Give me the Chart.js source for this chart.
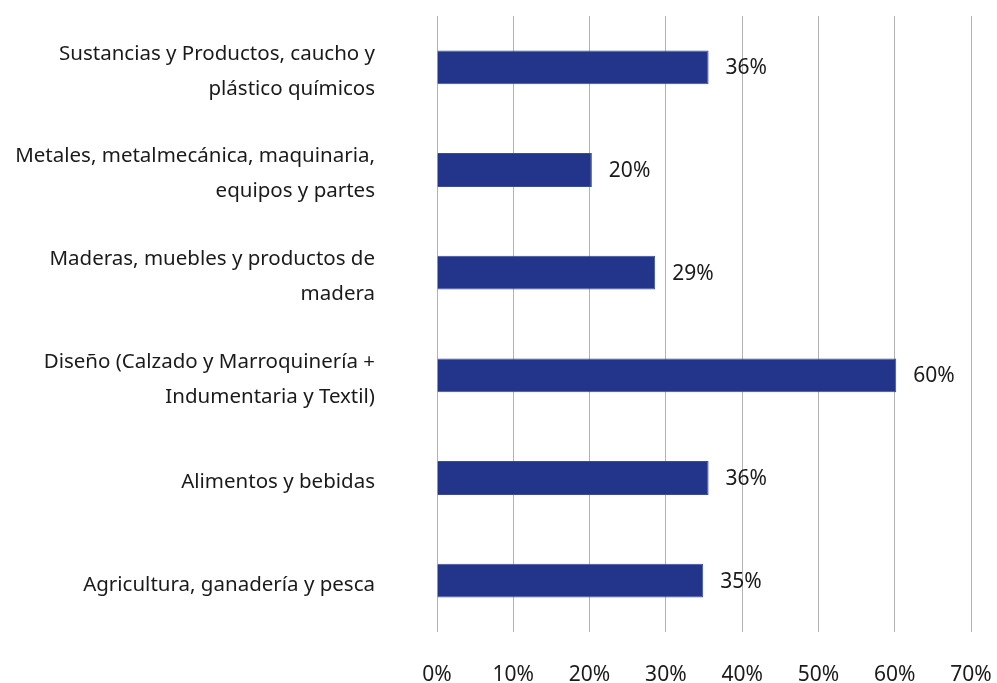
<!DOCTYPE html>
<html>
<head>
<meta charset="utf-8">
<script src="https://cdn.jsdelivr.net/npm/chart.js@4/dist/chart.umd.min.js"></script>
<style>
html,body{margin:0;padding:0;background:#fff;}
#wrap{width:997px;height:683px;position:relative;}
</style>
</head>
<body>
<div id="wrap"><canvas id="c" width="997" height="683"></canvas></div>
<script>
const categories = [
  ["Sustancias y Productos, caucho y", "plástico químicos"],
  ["Metales, metalmecánica, maquinaria,", "equipos y partes"],
  ["Maderas, muebles y productos de", "madera"],
  ["Diseño (Calzado y Marroquinería +", "Indumentaria y Textil)"],
  ["Alimentos y bebidas"],
  ["Agricultura, ganadería y pesca"]
];
const values = [35.6, 20.3, 28.6, 60.2, 35.6, 34.9];
const valueLabels = ["36%", "20%", "29%", "60%", "36%", "35%"];
const xTicks = [0, 10, 20, 30, 40, 50, 60, 70];

const FONT = "'Noto Sans', sans-serif";

const barLabels = {
  id: 'barLabels',
  afterDatasetsDraw(chart) {
    const ctx = chart.ctx;
    const meta = chart.getDatasetMeta(0);
    ctx.save();
    ctx.font = "21px " + FONT;
    ctx.fillStyle = "#1a1a1a";
    ctx.textAlign = "left";
    ctx.textBaseline = "middle";
    meta.data.forEach((bar, i) => {
      ctx.fillText(valueLabels[i], bar.x + 17, bar.y + 1);
    });
    ctx.restore();
  }
};

new Chart(document.getElementById('c'), {
  type: 'bar',
  data: {
    labels: categories,
    datasets: [{
      data: values,
      backgroundColor: '#22358a',
      borderColor: '#3a4c98',
      borderWidth: 1,
      barPercentage: 0.66,
      categoryPercentage: 0.5
    }]
  },
  options: {
    indexAxis: 'y',
    responsive: false,
    animation: false,
    layout: { padding: { left: 0, right: 26, top: 16, bottom: 0 } },
    plugins: { legend: { display: false }, tooltip: { enabled: false } },
    scales: {
      x: {
        min: 0, max: 70,
        afterBuildTicks(axis) { axis.ticks = xTicks.map(v => ({ value: v })); },
        grid: { color: '#b3b3b3', lineWidth: 1, drawTicks: false },
        border: { display: false },
        ticks: {
          padding: 30,
          color: '#1a1a1a',
          font: { family: FONT, size: 21 },
          callback: v => v + '%',
          maxRotation: 0
        },
        afterFit(axis) {
          axis.height = 51;
          axis.paddingLeft = 0;
          axis.paddingRight = 0;
        }
      },
      y: {
        grid: { display: false, drawTicks: false },
        border: { display: false },
        ticks: {
          padding: 62,
          labelOffset: 4,
          color: '#1a1a1a',
          font: { family: FONT, size: 20.5, lineHeight: 1.7 }
        },
        afterFit(axis) {
          axis.width = 437;
          axis.paddingTop = 0;
          axis.paddingBottom = 0;
        }
      }
    }
  },
  plugins: [barLabels]
});
</script>
</body>
</html>
